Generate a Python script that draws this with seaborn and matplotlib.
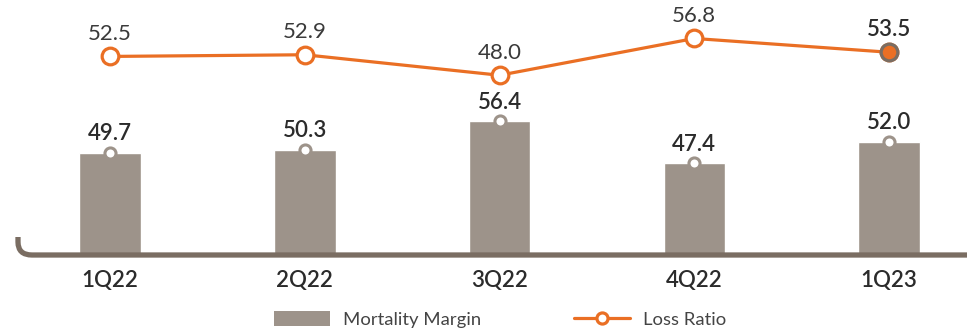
import matplotlib
matplotlib.use("Agg")
import matplotlib.pyplot as plt
import seaborn as sns
import pandas as pd
from matplotlib.patches import Patch, PathPatch
from matplotlib.lines import Line2D
from matplotlib.path import Path

quarters = ["1Q22", "2Q22", "3Q22", "4Q22", "1Q23"]
mortality_margin = [49.7, 50.3, 56.4, 47.4, 52.0]
loss_ratio = [52.5, 52.9, 48.0, 56.8, 53.5]

BAR = "#9d938a"
ORANGE = "#ea6f24"
AXIS = "#7a6d62"
TEXT = "#2b2b2b"

sns.set_theme(style="white")
plt.rcParams["font.family"] = ["Lato", "DejaVu Sans"]

df = pd.DataFrame({"quarter": quarters, "mm": mortality_margin, "lr": loss_ratio})

fig = plt.figure(figsize=(9.67, 3.28), dpi=100)
ax = fig.add_axes([17 / 967, 73 / 328, 950 / 967, 255 / 328])

sns.barplot(data=df, x="quarter", y="mm", color=BAR, width=0.315,
            saturation=1, ax=ax, zorder=2)
ax.plot(quarters, mortality_margin, "o", ms=8, mfc="white", mec=BAR,
        mew=2.2, zorder=3, clip_on=False)
for q, v in zip(quarters, mortality_margin):
    ax.annotate(f"{v:.1f}", (q, v), xytext=(0, 6), textcoords="offset points",
                ha="center", va="bottom", fontsize=16, fontweight="semibold",
                color=TEXT)

ax.set_xlim(-0.478, 4.40)
ax.set_ylim(28.0, 82.0)
ax.set_xlabel("")
ax.set_ylabel("")
ax.set_yticks([])
ax.tick_params(axis="x", length=0, pad=11, labelsize=16, labelcolor=TEXT)
for lab in ax.get_xticklabels():
    lab.set_fontweight("semibold")
for s in ax.spines.values():
    s.set_visible(False)

ax2 = ax.twinx()
sns.lineplot(data=df, x="quarter", y="lr", sort=False, color=ORANGE, lw=2.3,
             marker="o", ms=12, mfc="white", mec=ORANGE, mew=2.3, ax=ax2,
             zorder=4)
ax2.plot(quarters[-1:], loss_ratio[-1:], "o", ms=12, mfc=ORANGE, mec=AXIS,
         mew=2.3, zorder=5)
for i, (q, v) in enumerate(zip(quarters, loss_ratio)):
    last = i == len(quarters) - 1
    ax2.annotate(f"{v:.1f}", (q, v), xytext=(0, 9), textcoords="offset points",
                 ha="center", va="bottom", fontsize=16,
                 fontweight="semibold" if last else "normal",
                 color=TEXT if last else "#3a3a3a")
ax2.set_ylim(5.0, 66.0)
ax2.set_yticks([])
ax2.set_ylabel("")
ax2.set_xlabel("")
for s in ax2.spines.values():
    s.set_visible(False)

# rounded baseline
verts = [(0.18, 0.91), (0.18, 0.86), (0.18, 0.73), (0.32, 0.73), (9.70, 0.73)]
codes = [Path.MOVETO, Path.LINETO, Path.CURVE3, Path.CURVE3, Path.LINETO]
fig.patches.append(PathPatch(Path(verts, codes), transform=fig.dpi_scale_trans,
                             fill=False, edgecolor=AXIS, lw=3.8,
                             capstyle="butt", zorder=10))

handles = [Patch(facecolor=BAR, edgecolor="none", label="Mortality Margin"),
           Line2D([], [], color=ORANGE, lw=2.3, marker="o", ms=8, mfc="white",
                  mec=ORANGE, mew=2.3, label="Loss Ratio")]
fig.legend(handles=handles, loc="center", bbox_to_anchor=(0.517, 0.026),
           ncol=2, frameon=False, fontsize=13.3, labelcolor="#444444",
           handlelength=3.05, handleheight=0.9, handletextpad=0.7,
           columnspacing=5.0, borderpad=0)

fig.savefig("out.png", dpi=100)
